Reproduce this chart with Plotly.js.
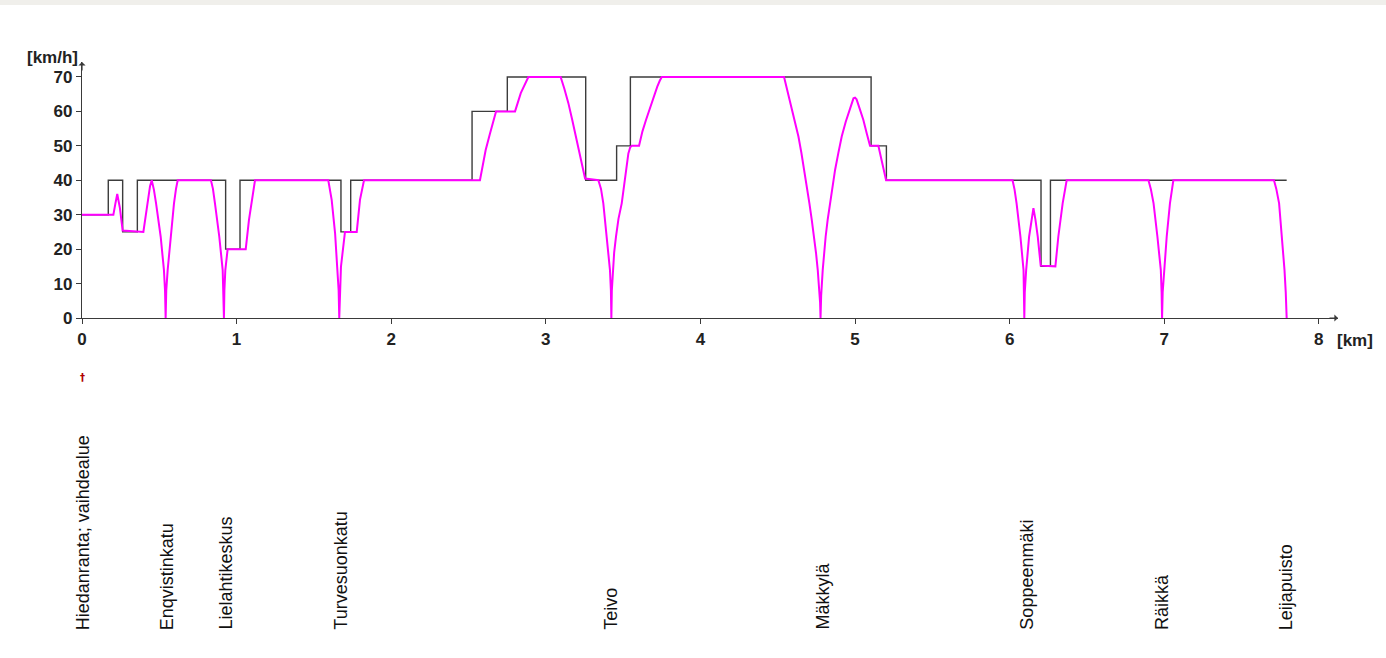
<!DOCTYPE html>
<html>
<head>
<meta charset="utf-8">
<script src="https://cdn.plot.ly/plotly-3.0.1.min.js"></script>
<style>
  html, body { margin: 0; padding: 0; background: #ffffff; }
  #topband { position: absolute; left: 0; top: 0; width: 1386px; height: 5px; background: #f0efeb; z-index: 5; }
  #chart { position: absolute; left: 0; top: 0; width: 1386px; height: 658px; }
</style>
</head>
<body>
<div id="chart"></div>
<div id="topband"></div>
<script>
// Speed limit (step function: value holds from each km until the next)
const limitKm = [0, 0.170, 0.263, 0.358, 0.929, 1.022, 1.675, 1.738, 2.523, 2.751, 3.258, 3.458, 3.547, 5.104, 5.203, 6.203, 6.264, 7.792];
const limitKmh = [30, 40, 25, 40, 20, 40, 25, 40, 60, 70, 40, 50, 70, 50, 40, 15, 40, 40];

// Driven speed profile
const runKm = [
  0, 0.203, 0.215, 0.228, 0.245, 0.263, 0.397, 0.410, 0.425, 0.440, 0.451, 0.465, 0.479, 0.495, 0.509, 0.530, 0.537, 0.541,
  0.545, 0.554, 0.574, 0.595, 0.608, 0.619, 0.834, 0.847, 0.860, 0.875, 0.888, 0.910, 0.915, 0.918, 0.921, 0.927, 0.942, 1.059,
  1.080, 1.102, 1.119, 1.593, 1.615, 1.637, 1.652, 1.660, 1.664, 1.668, 1.675, 1.701, 1.777, 1.798,
  1.824, 2.574, 2.611, 2.639, 2.678, 2.801, 2.838, 2.887, 3.096, 3.120, 3.146, 3.170, 3.195, 3.226,
  3.242, 3.254, 3.340, 3.357, 3.372, 3.394, 3.415, 3.421, 3.424, 3.427, 3.433, 3.442, 3.454, 3.470, 3.491, 3.505, 3.519, 3.534, 3.546, 3.556,
  3.603, 3.625, 3.648, 3.667, 3.685, 3.703, 3.721, 3.737, 3.750, 4.541, 4.560, 4.584, 4.609, 4.634, 4.653, 4.672, 4.689, 4.705, 4.720, 4.735, 4.748, 4.759,
  4.768, 4.774, 4.777, 4.781, 4.791, 4.800, 4.810, 4.823, 4.838, 4.854, 4.871, 4.892, 4.914, 4.940, 4.963, 4.978, 4.990, 5.000, 5.010, 5.030, 5.054, 5.076, 5.097,
  5.151, 5.175, 5.201, 6.019, 6.032, 6.045, 6.070, 6.090, 6.093, 6.095, 6.098, 6.107, 6.126, 6.142, 6.154, 6.167, 6.182,
  6.201, 6.296, 6.315, 6.343, 6.369, 6.898, 6.914, 6.931, 6.956, 6.978, 6.983, 6.986, 6.990, 6.999, 7.016,
  7.037, 7.059, 7.710, 7.725, 7.743, 7.762, 7.778, 7.786, 7.792
];
const runKmh = [
  30, 30, 33, 36, 32, 25.4, 25, 29.5, 34.3, 38.3, 40, 37.3, 33.3, 28.6, 23.6, 13.9, 8, 0,
  8, 13.9, 23.6, 33.3, 37.5, 40, 40, 37.5, 33.3, 28.8, 23.6, 13.9, 8, 0, 8, 13.9, 20, 20,
  28.5, 35.2, 40, 40, 34.3, 24.6, 14.9, 8, 0, 8, 14.9, 25, 25, 34.3,
  40, 40, 48.8, 53.6, 60, 60, 65.3, 70, 70, 66.6, 62.4, 57.7, 52.7, 45.9,
  42.8, 40.5, 40, 37.5, 33.3, 23.6, 13.9, 8, 0, 8, 13.9, 19, 23.6, 28.8, 33.3, 38.4, 43.0, 47.8, 49.6, 50,
  50, 54.2, 57.5, 60.2, 62.4, 64.9, 67.2, 68.9, 70, 70, 66.6, 62.4, 57.8, 52.7, 48.0, 43.0, 38.3, 33.3, 28.6, 23.6, 18.8, 13.9,
  8.5, 4.5, 0, 6.5, 13.9, 19.0, 23.6, 28.5, 33.3, 38.3, 43.0, 47.9, 52.7, 57.0, 60.4, 62.6, 63.8, 64.0, 63.5, 60.8, 57.5, 53.6, 50,
  50, 45, 40, 40, 37.3, 33.3, 23.6, 13.9, 7.5, 0, 7.5, 13.9, 23.6, 28.6, 31.9, 28.6, 23.6,
  15.2, 15, 23.6, 33.3, 40, 40, 37.3, 33.3, 23.6, 13.9, 7.5, 0, 7.5, 13.9, 23.6,
  33.3, 40, 40, 37.5, 33.3, 23.6, 13.9, 7.5, 0
];

// Stops
const stationNames = ["Hiedanranta; vaihdealue", "Enqvistinkatu", "Lielahtikeskus", "Turvesuonkatu", "Teivo", "Mäkkylä", "Soppeenmäki", "Räikkä", "Leijapuisto"];
const stationKm = [0.005, 0.548, 0.925, 1.673, 3.42, 4.787, 6.11, 6.985, 7.79];

const xTicks = [0, 1, 2, 3, 4, 5, 6, 7, 8];
const yTicks = [0, 10, 20, 30, 40, 50, 60, 70];

const axisColor = '#3a3a3a';
const tickFont = { family: 'Liberation Sans, Arial, sans-serif', size: 17, color: '#222', weight: 'bold' };

const traces = [
  { x: limitKm, y: limitKmh, type: 'scatter', mode: 'lines', line: { shape: 'hv', color: '#3c3c3c', width: 1.4 }, hoverinfo: 'skip', cliponaxis: false },
  { x: runKm, y: runKmh, type: 'scatter', mode: 'lines', line: { color: '#ff00ff', width: 2 }, hoverinfo: 'skip', cliponaxis: false }
];

const annotations = stationNames.map((n, i) => ({
  text: n, x: stationKm[i], xref: 'x', y: -1.2266, yref: 'paper',
  xanchor: 'center', yanchor: 'bottom', textangle: -90, showarrow: false,
  font: { family: 'Liberation Sans, Arial, sans-serif', size: 18, color: '#111' }
}));
annotations.push(
  { text: '[km/h]', x: -0.0016, xref: 'paper', y: 1.016, yref: 'paper', xanchor: 'right', yanchor: 'middle', showarrow: false, font: tickFont },
  { text: '[km]', x: 0.9976, xref: 'paper', y: -0.088, yref: 'paper', xanchor: 'left', yanchor: 'middle', showarrow: false, font: tickFont },
  // axis arrowheads
  { x: 1, xref: 'paper', y: 0, yref: 'paper', ax: -10, ay: 0, showarrow: true, arrowhead: 1, arrowsize: 1, arrowwidth: 1.2, arrowcolor: axisColor, text: '' },
  { x: 0, xref: 'paper', y: 1, yref: 'paper', ax: 0, ay: 10, showarrow: true, arrowhead: 1, arrowsize: 1, arrowwidth: 1.2, arrowcolor: axisColor, text: '' },
  // small red pin marker below the start
  { text: '†', x: 0, xref: 'x', y: -0.234, yref: 'paper', xanchor: 'center', yanchor: 'middle', showarrow: false, font: { family: 'DejaVu Sans', size: 10, color: '#b00000', weight: 'bold' } }
);

const layout = {
  width: 1386, height: 658,
  margin: { l: 82, r: 48, t: 62, b: 340 },
  paper_bgcolor: '#ffffff', plot_bgcolor: '#ffffff',
  showlegend: false,
  xaxis: {
    range: [0, 8.124], tickvals: xTicks, ticktext: xTicks.map(String),
    showgrid: false, zeroline: false, showline: true, linecolor: axisColor, linewidth: 1.2,
    ticks: 'outside', ticklen: 5, tickwidth: 1, tickcolor: axisColor, tickfont: tickFont, fixedrange: true
  },
  yaxis: {
    range: [0, 74.35], tickvals: yTicks, ticktext: yTicks.map(String),
    showgrid: false, zeroline: false, showline: true, linecolor: axisColor, linewidth: 1.2,
    ticks: 'outside', ticklen: 5, tickwidth: 1, tickcolor: axisColor, tickfont: tickFont, fixedrange: true
  },
  annotations: annotations
};

Plotly.newPlot('chart', traces, layout, { displayModeBar: false, staticPlot: true });
</script>
</body>
</html>
